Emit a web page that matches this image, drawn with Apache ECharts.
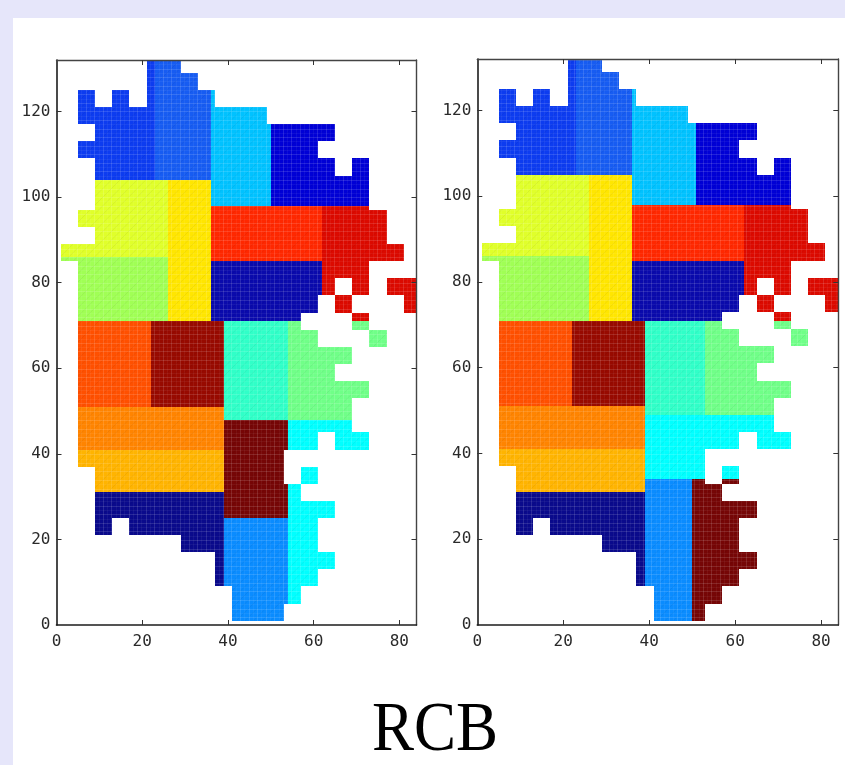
<!DOCTYPE html>
<html>
<head>
<meta charset="utf-8">
<style>html,body{margin:0;padding:0;background:#fff}#chart{width:845px;height:765px}</style>
<script src="https://cdn.jsdelivr.net/npm/echarts@6/dist/echarts.min.js"></script>
</head>
<body>
<div id="chart"></div>
<script>
// Every patch is [xStart, xEnd, yStart, yEnd] in axis units.
const xTicks = [20, 40, 60, 80];
const xLabels = [0, 20, 40, 60, 80];
const yTicks = [20, 40, 60, 80, 100, 120];
const yLabels = [0, 20, 40, 60, 80, 100, 120];
const titleText = 'RCB';

// Patches common to both partitions
const orangeRed = [[5,22,51,71]];
const brick = [[22,39,51,71]];
const orange = [[5,39,41,51]];
const amber = [[5,39,37,41],[9,39,31,37]];
const ink = [[9,39,25,31],[9,13,21,25],[17,39,21,25],[29,39,17,21],[37,39,9,17]];
const greenYellow = [[1,26,85,86],[5,26,71,85]];
const red = [[36,62,85,98]];
const crimson = [[62,73,97,98],[62,77,89,97],[62,81,85,89],[62,73,81,85],[62,65,77,81],[69,73,77,81],[77,84,77,81],[65,69,73,77],[81,84,73,77],[69,73,71,73]];
const navy = [[36,62,77,85],[36,61,73,77],[36,57,71,73]];

// Left partition
const leftBlueA = [[21,23,125,132],[5,9,121,125],[13,17,121,125],[21,23,121,125],[5,23,117,121],[9,23,113,117],[5,23,109,113],[9,23,104,109]];
const leftBlueB = [[23,29,129,132],[23,33,125,129],[23,36,104,125]];
const leftSky = [[36,37,121,125],[36,49,117,121],[36,50,98,117]];
const leftDeepBlue = [[50,65,113,117],[50,61,109,113],[50,65,105,109],[69,73,105,109],[50,73,98,105]];
const leftLime = [[9,26,97,104],[5,26,93,97],[9,26,89,93],[1,26,86,89]];
const leftYellow = [[26,36,71,104]];
const leftMint = [[39,54,48,71]];
const leftGreen = [[54,57,69,71],[69,73,69,71],[54,61,65,69],[73,77,65,69],[54,69,61,65],[54,65,57,61],[54,73,53,57],[54,69,48,53]];
const leftCyan = [[54,69,45,48],[54,61,41,45],[65,73,41,45],[57,61,33,37],[54,57,29,33],[54,65,25,29],[54,61,17,25],[54,65,13,17],[54,61,9,13],[54,57,5,9]];
const leftAzure = [[39,54,9,25],[41,54,5,9],[41,53,1,5]];
const leftMaroon = [[39,54,41,48],[39,53,33,41],[39,54,25,33]];

// Right partition
const rightBlueA = [[21,23,125,132],[5,9,121,125],[13,17,121,125],[21,23,121,125],[5,23,117,121],[9,23,113,117],[5,23,109,113],[9,23,105,109]];
const rightBlueB = [[23,29,129,132],[23,33,125,129],[23,36,105,125]];
const rightSky = [[36,37,121,125],[36,49,117,121],[36,51,98,117]];
const rightDeepBlue = [[51,65,113,117],[51,61,109,113],[51,65,105,109],[69,73,105,109],[51,73,98,105]];
const rightLime = [[9,26,97,105],[5,26,93,97],[9,26,89,93],[1,26,86,89]];
const rightYellow = [[26,36,71,105]];
const rightMint = [[39,53,49,71]];
const rightGreen = [[53,57,69,71],[69,73,69,71],[53,61,65,69],[73,77,65,69],[53,69,61,65],[53,65,57,61],[53,73,53,57],[53,69,49,53]];
const rightCyan = [[39,69,45,49],[39,61,41,45],[65,73,41,45],[39,53,34,41],[57,61,34,37]];
const rightAzure = [[39,50,9,34],[41,50,1,9]];
const rightMaroon = [[50,53,33,34],[57,61,33,34],[50,57,29,33],[50,65,25,29],[50,61,17,25],[50,65,13,17],[50,61,9,13],[50,57,5,9],[50,53,1,5]];

const palette = {
  blueA:'#0d3cf0', blueB:'#175cf2', sky:'#00c2ff', deepBlue:'#0000d6', lime:'#e0ff2a',
  yellow:'#ffe600', greenYellow:'#a0ff55', red:'#ff2800', crimson:'#dc0a00', navy:'#0a0aac',
  mint:'#30ffc8', green:'#70ff88', cyan:'#00ffff', azure:'#0a8cff', maroon:'#760606',
  orangeRed:'#ff5000', brick:'#980a00', orange:'#ff8400', amber:'#ffb400', ink:'#0a0a8c'
};

function texture(color) {
  const size = 120, c = document.createElement('canvas');
  c.width = c.height = size;
  const g = c.getContext('2d');
  g.fillStyle = color; g.fillRect(0, 0, size, size);
  const step = size / 28;
  g.lineWidth = 1;
  // fine diagonal hatch
  g.strokeStyle = 'rgba(0,0,0,0.05)';
  for (let i = -28; i < 56; i++) {
    g.beginPath(); g.moveTo(i * step * 2, size); g.lineTo(i * step * 2 + size, 0); g.stroke();
  }
  for (let i = 0; i < 28; i++) {
    const p = Math.round(i * step) + 0.5;
    g.strokeStyle = i % 2 === 0 ? 'rgba(255,255,255,0.13)' : 'rgba(255,255,255,0.05)';
    g.beginPath(); g.moveTo(p, 0); g.lineTo(p, size); g.stroke();
    g.beginPath(); g.moveTo(0, p); g.lineTo(size, p); g.stroke();
  }
  return c;
}
const patterns = {};
Object.keys(palette).forEach(k => { patterns[k] = { image: texture(palette[k]), repeat: 'repeat' }; });

function flatten(groups) {
  const out = [];
  groups.forEach(([name, rects]) => rects.forEach(r => out.push([r[0], r[1], r[2], r[3], name])));
  return out;
}
const leftData = flatten([['blueA',leftBlueA],['blueB',leftBlueB],['sky',leftSky],['deepBlue',leftDeepBlue],['lime',leftLime],['yellow',leftYellow],['greenYellow',greenYellow],['red',red],['crimson',crimson],['navy',navy],['mint',leftMint],['green',leftGreen],['cyan',leftCyan],['azure',leftAzure],['maroon',leftMaroon],['orangeRed',orangeRed],['brick',brick],['orange',orange],['amber',amber],['ink',ink]]);
const rightData = flatten([['blueA',rightBlueA],['blueB',rightBlueB],['sky',rightSky],['deepBlue',rightDeepBlue],['lime',rightLime],['yellow',rightYellow],['greenYellow',greenYellow],['red',red],['crimson',crimson],['navy',navy],['mint',rightMint],['green',rightGreen],['cyan',rightCyan],['azure',rightAzure],['maroon',rightMaroon],['orangeRed',orangeRed],['brick',brick],['orange',orange],['amber',amber],['ink',ink]]);

function renderPatch(params, api) {
  const a = api.coord([api.value(0), api.value(2)]);
  const b = api.coord([api.value(1), api.value(3)]);
  const x = Math.round(a[0]), y = Math.round(b[1]);
  return {
    type: 'rect',
    shape: { x: x, y: y, width: Math.round(b[0]) - x, height: Math.round(a[1]) - y },
    style: { fill: patterns[api.value(4)] }
  };
}

const lineDark = { lineStyle: { color: '#1c1c1c', width: 1.6 } };
const lineGrey = { lineStyle: { color: '#444', width: 1.4 } };
const tickStyle = { lineStyle: { color: '#333', width: 1 } };
const labelStyle = { fontFamily: 'DejaVu Sans Mono', fontSize: 16, color: '#2a2a2a' };

function axesFor(i, yLabelPad) {
  const xs = [
    { type:'value', gridIndex:i, position:'bottom', min:0, max:84, z:5,
      axisLine:{ show:true, onZero:false, ...lineDark },
      axisTick:{ show:true, inside:true, length:5, customValues:xTicks, ...tickStyle },
      axisLabel:{ show:true, margin:9, customValues:xLabels, ...labelStyle },
      splitLine:{ show:false } },
    { type:'value', gridIndex:i, position:'top', min:0, max:84, z:5,
      axisLine:{ show:true, onZero:false, ...lineGrey },
      axisTick:{ show:true, inside:true, length:5, customValues:xTicks, ...tickStyle },
      axisLabel:{ show:false }, splitLine:{ show:false } }
  ];
  const ys = [
    { type:'value', gridIndex:i, position:'left', min:0, max:132, z:5,
      axisLine:{ show:true, onZero:false, ...lineDark },
      axisTick:{ show:true, inside:true, length:5, customValues:yTicks, ...tickStyle },
      axisLabel:{ show:true, margin:6, customValues:yLabels, padding:[yLabelPad,0,0,0], ...labelStyle },
      splitLine:{ show:false } },
    { type:'value', gridIndex:i, position:'right', min:0, max:132, z:5,
      axisLine:{ show:true, onZero:false, ...lineGrey },
      axisTick:{ show:true, inside:true, length:5, customValues:yTicks, ...tickStyle },
      axisLabel:{ show:false }, splitLine:{ show:false } }
  ];
  return { xs, ys };
}
const a0 = axesFor(0, 5), a1 = axesFor(1, 3);

const chart = echarts.init(document.getElementById('chart'), null, { renderer: 'canvas' });
chart.setOption({
  animation: false,
  backgroundColor: '#e6e6fa',
  grid: [
    { left: 56.5, top: 60, width: 360, height: 565 },
    { left: 477.3, top: 59, width: 361, height: 566 }
  ],
  xAxis: [...a0.xs, ...a1.xs],
  yAxis: [...a0.ys, ...a1.ys],
  series: [
    { type:'custom', xAxisIndex:0, yAxisIndex:0, data:leftData, renderItem:renderPatch, clip:true,
      dimensions:['x0','x1','y0','y1','name'], encode:{ x:[0,1], y:[2,3] }, silent:true },
    { type:'custom', xAxisIndex:2, yAxisIndex:2, data:rightData, renderItem:renderPatch, clip:true,
      dimensions:['x0','x1','y0','y1','name'], encode:{ x:[0,1], y:[2,3] }, silent:true }
  ],
  graphic: [
    { type:'rect', z:-1, shape:{ x:13, y:18, width:832, height:747 }, style:{ fill:'#ffffff' }, silent:true },
    { type:'text', x:435, y:767, scaleX:0.9, z:10, silent:true,
      style:{ text:titleText, fontFamily:'Liberation Serif', fontSize:70, fill:'#000', textAlign:'center', textVerticalAlign:'bottom' } }
  ]
});
</script>
</body>
</html>
